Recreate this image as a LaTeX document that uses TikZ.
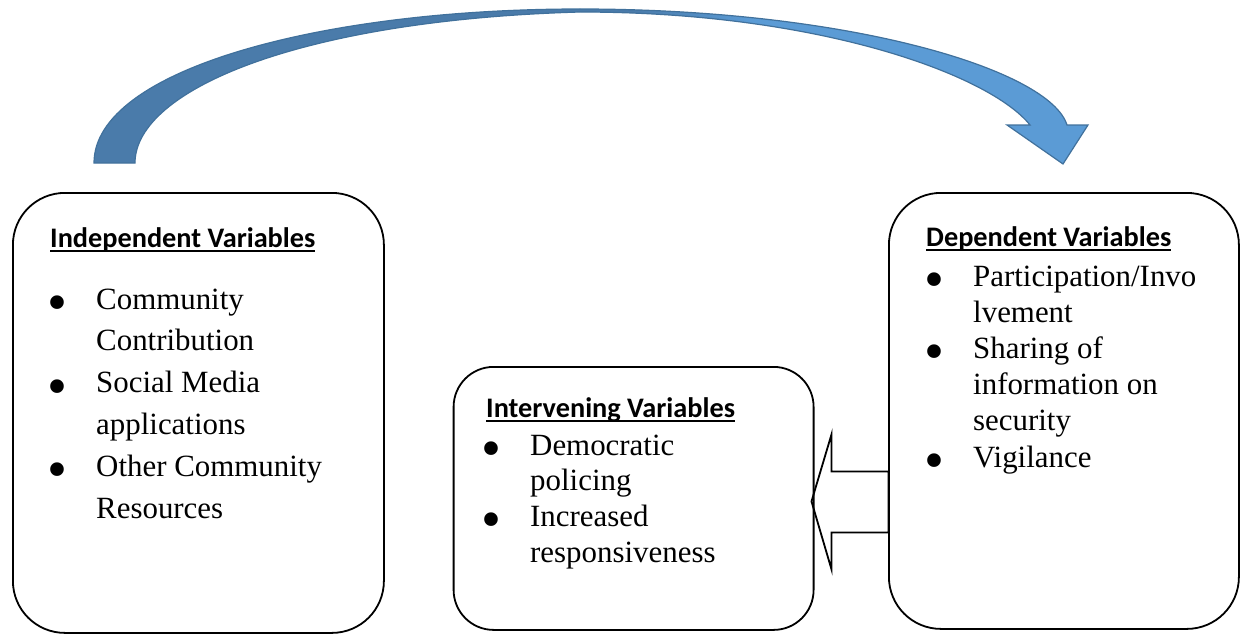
\documentclass[tikz,border=0pt]{standalone}
\usepackage{fontspec}
\setmainfont{Liberation Serif}
\newfontfamily\headfont{Carlito}
\usetikzlibrary{calc, positioning}
\definecolor{arrowdark}{HTML}{4A7BAA}
\definecolor{arrowlight}{HTML}{5B9BD5}
\definecolor{arrowline}{HTML}{41719C}
\pgfdeclarehorizontalshading{bendshade}{100bp}{color(0bp)=(arrowdark); color(52bp)=(arrowdark); color(58bp)=(arrowlight); color(100bp)=(arrowlight)}
\newcommand{\ulhead}[1]{\setbox0\hbox{#1}\rlap{\rule[-4.5pt]{\wd0}{1.8pt}}\box0}
\newcommand{\vb}{\llap{\raisebox{-12.5pt}[0pt][0pt]{\fontsize{57}{0}\selectfont\textbullet}\hspace{29pt}}}

\begin{document}
\begin{tikzpicture}[x=1pt, y=-1pt,
    varbox/.style={draw, line width=1.8pt, rounded corners=52pt, inner sep=0pt, anchor=north west},
    head/.style={anchor=base west, inner sep=0pt, font=\headfont\bfseries\fontsize{28.3}{34}\selectfont},
    items/.style={anchor=base west, inner sep=0pt},
    hollowarrow/.style={draw, line width=1.8pt, line join=miter}]
  \useasboundingbox (0,0) rectangle (1240,634);
  % Boxes
  \node[varbox, minimum width=371pt, minimum height=440pt] (indep) at (12,192) {};
  \node[varbox, minimum width=360pt, minimum height=263pt, rounded corners=40pt] (inter) at (452.7,366) {};
  \node[varbox, minimum width=350pt, minimum height=436pt] (dep) at (888,192) {};
  % Independent variables
  \node[head] (indephead) at (50,247) {\ulhead{Independent Variables}};
  \node[items, font=\fontsize{30.9}{41.8}\selectfont] (indeplist) at (96,309) {%
    \begin{tabular}[t]{@{}l@{}}
      \vb Community\\ Contribution\\
      \vb Social Media\\ applications\\
      \vb Other Community\\ Resources
    \end{tabular}};
  % Intervening variables
  \node[head] (interhead) at (486,417) {\ulhead{Intervening Variables}};
  \node[items, font=\fontsize{30.9}{35.7}\selectfont] (interlist) at (530,455) {%
    \begin{tabular}[t]{@{}l@{}}
      \vb Democratic\\ policing\\
      \vb Increased\\ responsiveness
    \end{tabular}};
  % Dependent variables
  \node[head] (dephead) at (926,246) {\ulhead{Dependent Variables}};
  \node[items, font=\fontsize{30.9}{36.2}\selectfont] (deplist) at (973,286) {%
    \begin{tabular}[t]{@{}l@{}}
      \vb Participation/Invo\\ lvement\\
      \vb Sharing of\\ information on\\ security\\
      \vb Vigilance
    \end{tabular}};
  % Curved arrow over the top
  \shade[shading=bendshade, draw=arrowline, line width=1.2pt, line join=miter]
    (94,163) .. controls (94,70) and (320,9) .. (580,9)
    .. controls (850,9) and (1050,70) .. (1067,125)
    -- (1088,125) -- (1063,164) -- (1007,125) -- (1030,125)
    .. controls (990,75) and (820,12) .. (580,12)
    .. controls (300,20) and (135,90) .. (135,163) -- cycle;
  % Hollow arrow back to the middle box
  \coordinate (tip) at ([shift={(-3,3)}]inter.east);
  \draw[hollowarrow] (tip) -- ++(20,-67) -- ++(0,37) -- ++(57,0) -- ++(0,61)
    -- ++(-57,0) -- ++(0,37) -- cycle;
\end{tikzpicture}
\end{document}
